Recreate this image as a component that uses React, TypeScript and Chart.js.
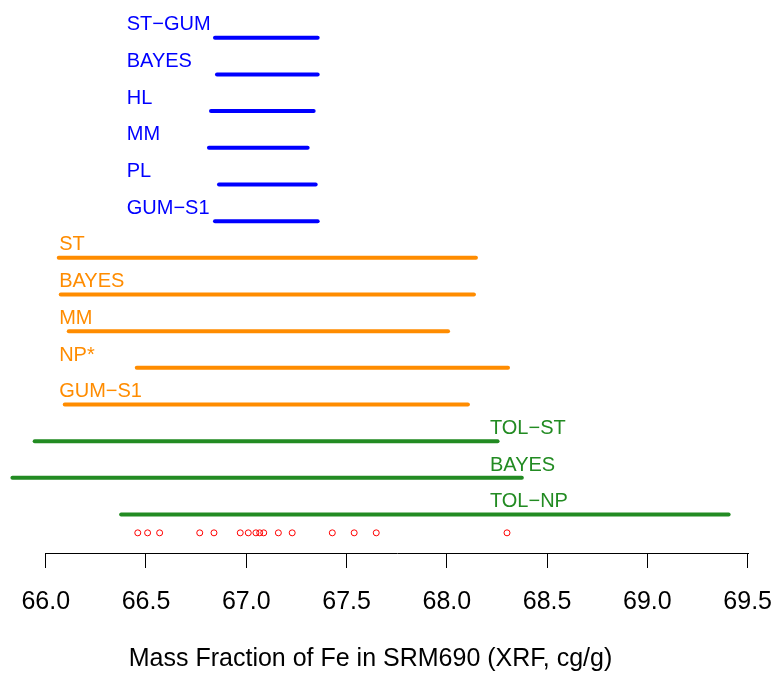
import React, { useEffect, useRef } from "react";
import { Chart, registerables } from "chart.js";

Chart.register(...registerables);

const FONT = "'Liberation Sans', Arial, Helvetica, sans-serif";

// Interval estimates (lower / upper end of each interval), top to bottom
const blueLabels = ["ST\u2212GUM", "BAYES", "HL", "MM", "PL", "GUM\u2212S1"];
const blueLower = [66.844, 66.854, 66.824, 66.814, 66.864, 66.844];
const blueUpper = [67.356, 67.356, 67.336, 67.306, 67.346, 67.356];

const orangeLabels = ["ST", "BAYES", "MM", "NP*", "GUM\u2212S1"];
const orangeLower = [66.065, 66.075, 66.115, 66.454, 66.095];
const orangeUpper = [68.145, 68.135, 68.006, 68.305, 68.105];

const greenLabels = ["TOL\u2212ST", "BAYES", "TOL\u2212NP"];
const greenLower = [65.945, 65.834, 66.376];
const greenUpper = [68.253, 68.374, 69.405];

// Individual measurements
const measurements = [
  66.459, 66.508, 66.568, 66.768, 66.839, 66.97, 67.01, 67.048, 67.067,
  67.087, 67.16, 67.229, 67.429, 67.538, 67.648, 68.3,
];

const xTicks = [66.0, 66.5, 67.0, 67.5, 68.0, 68.5, 69.0, 69.5];
const xTitle = "Mass Fraction of Fe in SRM690 (XRF, cg/g)";

const BLUE = "#0000FF";
const ORANGE = "#FF8C00";
const GREEN = "#228B22";
const RED = "#FF0000";

type Group = { labels: string[]; lower: number[]; upper: number[]; color: string; labelAt: number; firstRow: number };

const groups: Group[] = [
  { labels: blueLabels, lower: blueLower, upper: blueUpper, color: BLUE, labelAt: 66.404, firstRow: 1 },
  { labels: orangeLabels, lower: orangeLower, upper: orangeUpper, color: ORANGE, labelAt: 66.067, firstRow: 7 },
  { labels: greenLabels, lower: greenLower, upper: greenUpper, color: GREEN, labelAt: 68.215, firstRow: 12 },
];
const pointsRow = 14.5;

const allLower = [...blueLower, ...orangeLower, ...greenLower];
const allUpper = [...blueUpper, ...orangeUpper, ...greenUpper];
const dataMid = (Math.min(...allLower) + Math.max(...allUpper)) / 2;

export default function App() {
  const ref = useRef<HTMLCanvasElement | null>(null);

  useEffect(() => {
    if (!ref.current) return;
    const datasets: any[] = [];
    groups.forEach((g) => {
      g.labels.forEach((_, i) => {
        datasets.push({
          type: "line",
          data: [
            { x: g.lower[i], y: g.firstRow + i },
            { x: g.upper[i], y: g.firstRow + i },
          ],
          borderColor: g.color,
          borderWidth: 4,
          borderCapStyle: "round",
          pointRadius: 0,
          pointHoverRadius: 0,
          fill: false,
          clip: false,
        });
      });
    });
    datasets.push({
      type: "scatter",
      data: measurements.map((v) => ({ x: v, y: pointsRow })),
      borderColor: RED,
      backgroundColor: "rgba(0,0,0,0)",
      borderWidth: 1,
      pointRadius: 3,
      showLine: false,
      clip: false,
    });

    const labelPlugin = {
      id: "intervalLabels",
      afterDatasetsDraw(chart: any) {
        const { ctx, scales } = chart;
        ctx.save();
        ctx.font = `20px ${FONT}`;
        ctx.textAlign = "left";
        ctx.textBaseline = "alphabetic";
        groups.forEach((g) => {
          ctx.fillStyle = g.color;
          g.labels.forEach((lab, i) => {
            const x = scales.x.getPixelForValue(g.labelAt);
            const y = scales.y.getPixelForValue(g.firstRow + i) - 7.3;
            ctx.fillText(lab, x, y);
          });
        });
        ctx.restore();
      },
    };

    const axisLinePlugin = {
      id: "axisLine",
      afterDraw(chart: any) {
        const { ctx, scales, chartArea } = chart;
        const x0 = scales.x.getPixelForValue(xTicks[0]);
        const x1 = scales.x.getPixelForValue(xTicks[xTicks.length - 1]);
        const y = Math.round(chartArea.bottom) + 0.5;
        ctx.save();
        ctx.strokeStyle = "#000";
        ctx.lineWidth = 1;
        ctx.beginPath();
        ctx.moveTo(Math.round(x0), y);
        ctx.lineTo(Math.round(x1) + 1, y);
        ctx.stroke();
        // axis title, centred on the data range (as in the original plot region)
        ctx.fillStyle = "#000";
        ctx.font = `25px ${FONT}`;
        ctx.textAlign = "center";
        ctx.textBaseline = "middle";
        ctx.fillText(xTitle, scales.x.getPixelForValue(dataMid), scales.x.bottom - 13.75);
        ctx.restore();
      },
    };

    const chart = new Chart(ref.current, {
      type: "line",
      data: { datasets },
      options: {
        responsive: false,
        animation: false,
        font: { family: FONT },
        layout: { autoPadding: false, padding: { left: 5.6, right: 16.3, top: 0, bottom: 0 } },
        plugins: { legend: { display: false }, tooltip: { enabled: false }, title: { display: false } },
        scales: {
          x: {
            type: "linear",
            position: "bottom",
            min: 65.8,
            max: 69.55,
            afterBuildTicks: (s: any) => {
              s.ticks = xTicks.map((v) => ({ value: v }));
            },
            afterFit: (s: any) => {
              s.paddingLeft = 0;
              s.paddingRight = 0;
            },
            ticks: {
              callback: (v: any) => Number(v).toFixed(1),
              font: { family: FONT, size: 25 },
              color: "#000",
              padding: 19.5,
              maxRotation: 0,
              autoSkip: false,
            },
            grid: {
              display: true,
              drawOnChartArea: false,
              drawTicks: true,
              tickLength: 15,
              color: "#000",
              lineWidth: 1,
            },
            border: { display: false },
            title: {
              display: true,
              text: xTitle,
              color: "rgba(0,0,0,0)",
              font: { family: FONT, size: 25, lineHeight: 1.1 },
              padding: { top: 8.5, bottom: 0 },
            },
          },
          y: {
            type: "linear",
            reverse: true,
            min: -0.03,
            max: 15.05,
            display: false,
          },
        },
      } as any,
      plugins: [labelPlugin, axisLinePlugin],
    });
    return () => chart.destroy();
  }, []);

  return (
    <div style={{ position: "absolute", left: 0, top: 0, width: 774, height: 673, background: "#fff" }}>
      <canvas ref={ref} width={774} height={673} style={{ display: "block", width: 774, height: 673 }} />
    </div>
  );
}
